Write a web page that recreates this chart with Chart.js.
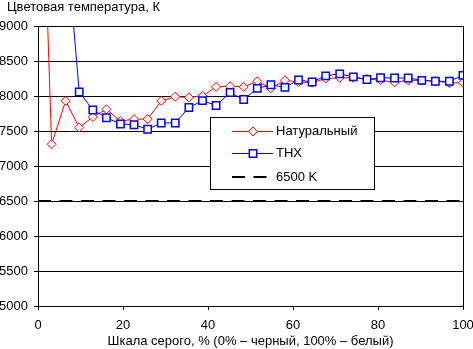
<!DOCTYPE html>
<html><head><meta charset="utf-8">
<script src="https://cdn.jsdelivr.net/npm/chart.js@4.4.0/dist/chart.umd.min.js"></script>
<style>html,body{margin:0;padding:0;background:#fff;}#wrap{width:473px;height:349px;position:relative;}</style>
</head><body><div id="wrap"><canvas id="c" width="473" height="349"></canvas></div>
<script>
// Gray level, % (x positions of the measurements)
const grayLevels = [0, 3.2, 6.5, 9.7, 12.9, 16.1, 19.4, 22.6, 25.8, 29.0, 32.3, 35.5, 38.7, 41.9, 45.2, 48.4,
  51.6, 54.8, 58.1, 61.3, 64.5, 67.7, 71.0, 74.2, 77.4, 80.6, 83.9, 87.1, 90.3, 93.5, 96.8, 100];
// Colour temperature, K — "Натуральный" mode
const natural = [13200, 7310, 7930, 7550, 7700, 7810, 7640, 7670, 7670, 7930, 7990, 7980, 8000, 8130, 8140, 8130,
  8210, 8110, 8225, 8200, 8190, 8250, 8260, 8260, 8245, 8225, 8195, 8225, 8220, 8215, 8185, 8190];
// Colour temperature, K — "THX" mode
const thx = [14000, 12500, 10340, 8057, 7800, 7690, 7600, 7590, 7525, 7615, 7615, 7835, 7933, 7865, 8050, 7950,
  8108, 8160, 8124, 8229, 8200, 8288, 8317, 8273, 8235, 8260, 8257, 8257, 8224, 8210, 8210, 8295];
// Reference 6500 K line
const refX = [0, 100];
const ref6500 = [6500, 6500];

const seriesLabels = ['Натуральный', 'THX', '6500 K'];
const yTitle = 'Цветовая температура, К';
const xTitle = 'Шкала серого, % (0% – черный, 100% – белый)';

const FONT = "'Liberation Sans', Arial, sans-serif";
const font13 = {family: FONT, size: 13, weight: 'normal', lineHeight: 1.2};

const LEG = {left: 210, top: 117, right: 374, bottom: 189, x1: 232, x2: 273, textX: 276, rows: [131, 153, 177]};
const TITLE_X = 7;

const legendPlugin = {
  id: 'boxLegend',
  afterLayout(chart) {
    if (chart.titleBlock) { chart.titleBlock.left = TITLE_X; }
  },
  afterDraw(chart) {
    const ctx = chart.ctx;
    ctx.save();
    ctx.fillStyle = '#fff';
    ctx.fillRect(LEG.left, LEG.top, LEG.right - LEG.left, LEG.bottom - LEG.top);
    ctx.strokeStyle = '#000';
    ctx.lineWidth = 1;
    ctx.strokeRect(LEG.left + 0.5, LEG.top + 0.5, LEG.right - LEG.left, LEG.bottom - LEG.top);
    chart.data.datasets.forEach((ds, i) => {
      const y = LEG.rows[i];
      ctx.save();
      ctx.strokeStyle = ds.borderColor;
      ctx.lineWidth = ds.borderWidth;
      ctx.setLineDash(ds.borderDash || []);
      const yy = ds.borderWidth % 2 ? y + 0.5 : y;
      ctx.beginPath(); ctx.moveTo(LEG.x1, yy); ctx.lineTo(LEG.x2, yy); ctx.stroke();
      ctx.setLineDash([]);
      if (ds.pointRadius > 0) {
        ctx.fillStyle = ds.pointBackgroundColor;
        ctx.strokeStyle = ds.pointBorderColor;
        ctx.lineWidth = ds.pointBorderWidth;
        Chart.helpers.drawPoint(ctx, {pointStyle: ds.pointStyle, radius: ds.pointRadius, borderWidth: ds.pointBorderWidth, rotation: 0}, (LEG.x1 + LEG.x2) / 2 + 0.5, yy);
      }
      ctx.restore();
      ctx.fillStyle = '#000';
      ctx.font = "13px " + FONT;
      ctx.textBaseline = 'middle';
      ctx.textAlign = 'left';
      ctx.fillText(ds.label, LEG.textX, y + 0.5);
    });
    ctx.restore();
  }
};

new Chart(document.getElementById('c'), {
  type: 'line',
  data: {
    datasets: [
      {label: seriesLabels[0], data: grayLevels.map((x, i) => ({x, y: natural[i]})), order: 1,
       borderColor: '#ff0000', borderWidth: 1, pointStyle: 'rectRot', pointRadius: 4.5,
       pointBorderColor: '#ff0000', pointBackgroundColor: '#ffffff', pointBorderWidth: 1, tension: 0},
      {label: seriesLabels[1], data: grayLevels.map((x, i) => ({x, y: thx[i]})), order: 0,
       borderColor: '#0000ff', borderWidth: 1, pointStyle: 'rect', pointRadius: 5.2,
       pointBorderColor: '#0000ff', pointBackgroundColor: '#ffffff', pointBorderWidth: 1.5, tension: 0},
      {label: seriesLabels[2], data: refX.map((x, i) => ({x, y: ref6500[i]})), order: 2,
       borderColor: '#000000', borderWidth: 2, borderDash: [13, 8.5], pointRadius: 0, tension: 0}
    ]
  },
  options: {
    responsive: false, animation: false, devicePixelRatio: 1,
    layout: {padding: {left: 0, right: 10, top: 0, bottom: 0}},
    plugins: {
      legend: {display: false}, tooltip: {enabled: false},
      title: {display: true, text: yTitle, align: 'start', color: '#000', font: font13, padding: {top: 0, bottom: 10.4}}
    },
    scales: {
      x: {
        type: 'linear', min: 0, max: 100,
        ticks: {stepSize: 20, color: '#000', font: font13, padding: 8, maxRotation: 0, callback: v => String(v)},
        grid: {color: c => (c.tick && c.tick.value === 100) ? '#000' : 'rgba(0,0,0,0)', tickColor: '#000', tickLength: 4, lineWidth: 1},
        border: {color: '#000', width: 1},
        title: {display: true, text: xTitle, color: '#000', font: font13, padding: {top: 0, bottom: 0}},
        afterFit: s => { s.height = 43; s.paddingLeft = 0; s.paddingRight = 0; }
      },
      y: {
        min: 5000, max: 9000,
        ticks: {stepSize: 500, color: '#000', font: font13, padding: 6, callback: v => String(v)},
        grid: {color: '#000', tickColor: '#000', tickLength: 4, lineWidth: 1},
        border: {color: '#000', width: 1},
        afterFit: s => { s.width = 38; s.paddingTop = 0; s.paddingBottom = 0; }
      }
    }
  },
  plugins: [legendPlugin]
});
</script></body></html>
